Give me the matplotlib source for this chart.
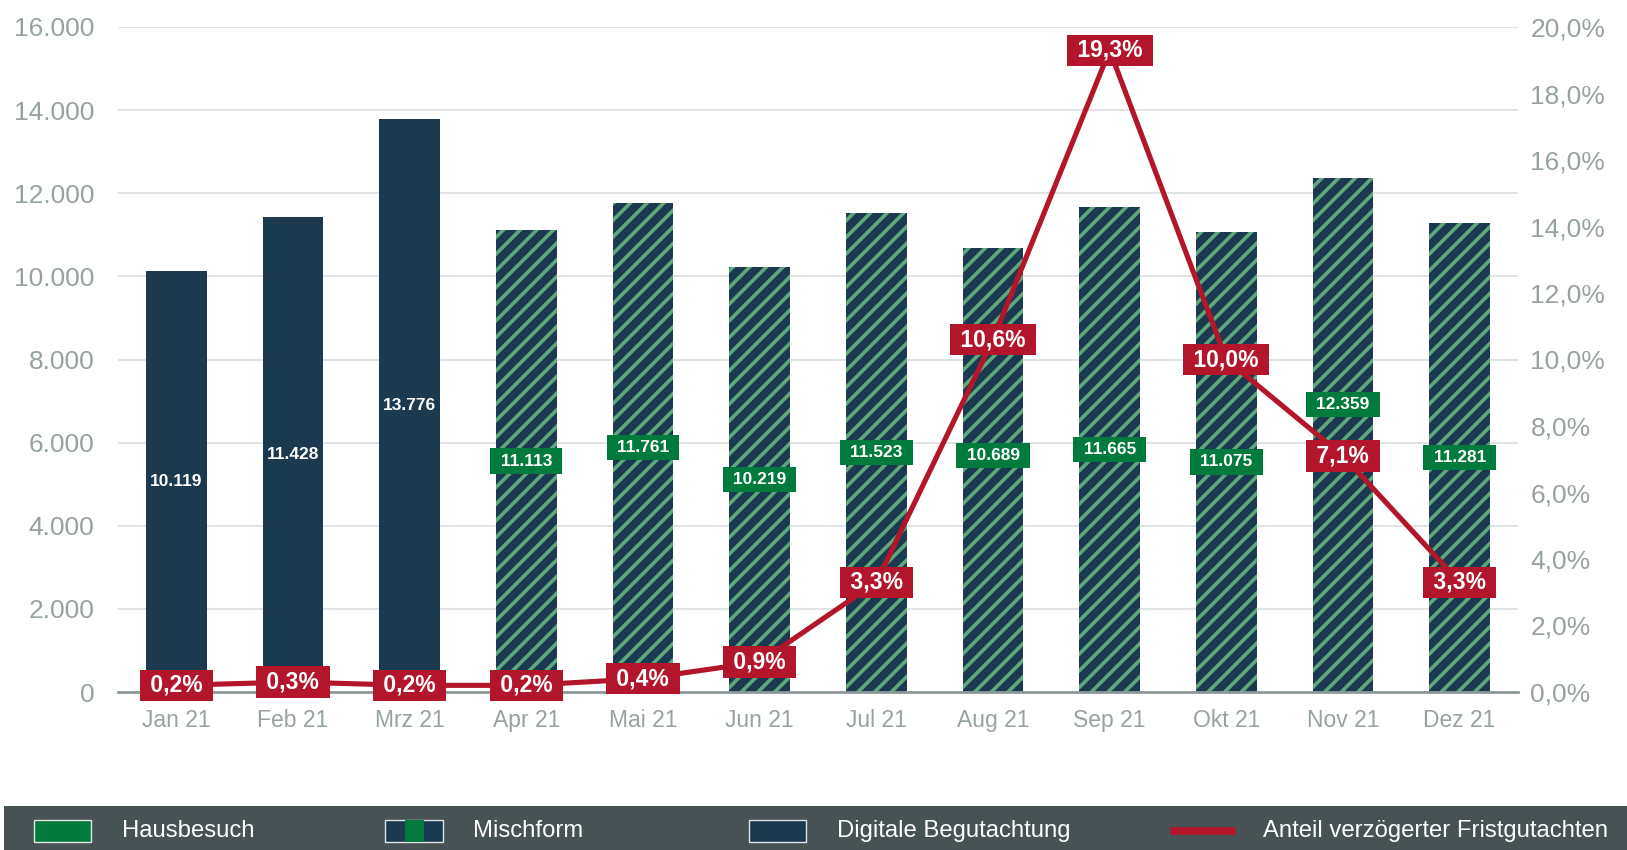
import matplotlib.pyplot as plt
from matplotlib.patches import Rectangle
from matplotlib.lines import Line2D
from matplotlib.ticker import FuncFormatter, MultipleLocator

plt.rcParams['font.family'] = ['Liberation Sans', 'DejaVu Sans']
plt.rcParams['hatch.linewidth'] = 2.6

# Data
months = ['Jan 21', 'Feb 21', 'Mrz 21', 'Apr 21', 'Mai 21', 'Jun 21',
          'Jul 21', 'Aug 21', 'Sep 21', 'Okt 21', 'Nov 21', 'Dez 21']
gutachten = [10119, 11428, 13776, 11113, 11761, 10219,
             11523, 10689, 11665, 11075, 12359, 11281]
form = ['digital'] * 3 + ['misch'] * 9
anteil = [0.2, 0.3, 0.2, 0.2, 0.4, 0.9, 3.3, 10.6, 19.3, 10.0, 7.1, 3.3]
legend_labels = ['Hausbesuch', 'Mischform', 'Digitale Begutachtung',
                 'Anteil verzögerter Fristgutachten']

# Colors
NAVY = '#1b3a50'
GREEN = '#007b3d'
STRIPE = '#5fa87c'
RED = '#b3162b'
GREY_TXT = '#97a2a3'
GRID = '#dde1e1'
LEGEND_BG = '#465254'


def de_int(n):
    return f'{n:,.0f}'.replace(',', '.')


def de_pct(v):
    return f'{v:.1f}%'.replace('.', ',')


W, H = 1627, 850
fig = plt.figure(figsize=(W / 100, H / 100), dpi=100)
ax = fig.add_axes([118 / W, 1 - 692 / H, 1400 / W, 665 / H])
ax2 = ax.twinx()

# Bars
for i, (v, f) in enumerate(zip(gutachten, form)):
    if f == 'digital':
        ax.bar(i, v, width=0.52, color=NAVY, zorder=2)
    else:
        ax.bar(i, v, width=0.52, facecolor=NAVY, edgecolor=STRIPE,
               linewidth=0, hatch='//', zorder=2)

ax.set_xlim(-0.5, len(months) - 0.5)
ax.set_ylim(0, 16000)
ax.yaxis.set_major_locator(MultipleLocator(2000))
ax.yaxis.set_major_formatter(FuncFormatter(lambda v, p: de_int(v)))
ax.grid(axis='y', color=GRID, linewidth=1.3, zorder=0)
ax.set_axisbelow(True)
ax.set_xticks(range(len(months)))
ax.set_xticklabels(months)
ax.tick_params(axis='x', length=0, pad=12.5, labelsize=16.5, labelcolor=GREY_TXT)
ax.tick_params(axis='y', length=0, pad=17, labelsize=19, labelcolor=GREY_TXT)
for s in ['top', 'left', 'right']:
    ax.spines[s].set_visible(False)
ax.spines['bottom'].set_color('#8e9898')
ax.spines['bottom'].set_linewidth(2)

# Line on secondary axis
ax2.set_ylim(0, 20)
ax2.yaxis.set_major_locator(MultipleLocator(2))
ax2.yaxis.set_major_formatter(FuncFormatter(lambda v, p: de_pct(v)))
ax2.tick_params(axis='y', length=0, pad=9, labelsize=19, labelcolor=GREY_TXT)
for s in ax2.spines.values():
    s.set_visible(False)
ax2.plot(range(len(months)), anteil, color=RED, linewidth=3.7,
         solid_joinstyle='miter', zorder=3)

# Bar labels (Aug and Nov moved up to clear the line)
label_shift = {7: 10.5, 10: 22}
for i, (v, f) in enumerate(zip(gutachten, form)):
    if f == 'digital':
        ax2.annotate(de_int(v), (i, v / 2), xycoords=ax.transData,
                     ha='center', va='center', color='white',
                     fontsize=12.5, fontweight='bold', zorder=4)
    else:
        ax2.annotate(' ' + de_int(v) + ' ', (i, v / 2), xycoords=ax.transData,
                     xytext=(0, label_shift.get(i, 0)), textcoords='offset points',
                     ha='center', va='center', color='white',
                     fontsize=12.5, fontweight='bold', zorder=4,
                     bbox=dict(boxstyle='square,pad=0.3', facecolor=GREEN,
                               edgecolor='none'))

# Line labels
for i, v in enumerate(anteil):
    ax2.annotate(' ' + de_pct(v) + ' ', (i, v), ha='center', va='center',
                 color='white', fontsize=16.5, fontweight='bold', zorder=5,
                 annotation_clip=False,
                 bbox=dict(boxstyle='square,pad=0.18', facecolor=RED,
                           edgecolor='none'))

# Legend bar
fig.patches.append(Rectangle((4 / W, 0), 1623 / W, 44 / H, transform=fig.transFigure,
                             facecolor=LEGEND_BG, edgecolor='none', zorder=0))
sw_y0, sw_h = 8 / H, 22 / H
ty = 19 / H
# Hausbesuch
fig.patches.append(Rectangle((34 / W, sw_y0), 57 / W, sw_h, transform=fig.transFigure,
                             facecolor=GREEN, edgecolor='#e4e4e4', linewidth=1, zorder=1))
# Mischform
fig.patches.append(Rectangle((385 / W, sw_y0), 58 / W, sw_h, transform=fig.transFigure,
                             facecolor=NAVY, edgecolor='#e4e4e4', linewidth=1, zorder=1))
fig.patches.append(Rectangle((405 / W, sw_y0), 19 / W, sw_h, transform=fig.transFigure,
                             facecolor=GREEN, edgecolor='none', zorder=2))
# Digitale Begutachtung
fig.patches.append(Rectangle((749 / W, sw_y0), 57 / W, sw_h, transform=fig.transFigure,
                             facecolor=NAVY, edgecolor='#e4e4e4', linewidth=1, zorder=1))
# Line
fig.lines.append(Line2D([1174 / W, 1232 / W], [ty, ty], transform=fig.transFigure,
                        color=RED, linewidth=5.5))
for x0, lab in zip([122, 473, 837, 1263], legend_labels):
    fig.text(x0 / W, ty, lab, ha='left', va='center', color='white', fontsize=17.2)

fig.savefig('out.png', dpi=100)
